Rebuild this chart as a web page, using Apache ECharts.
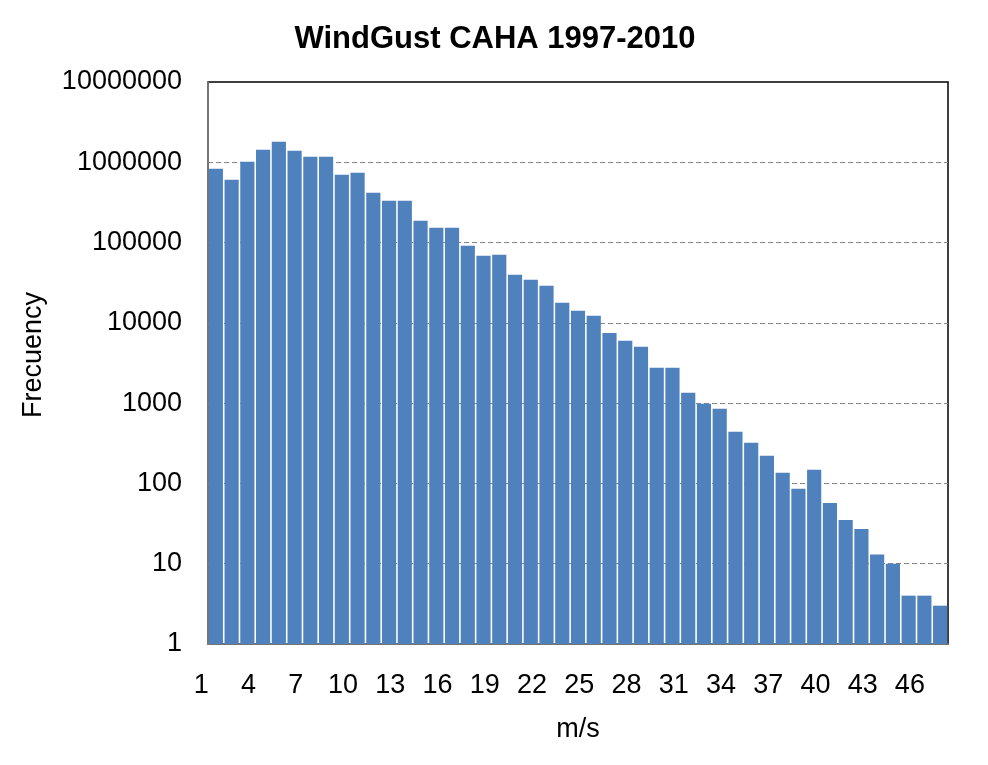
<!DOCTYPE html>
<html>
	<head>
		<meta charset="utf-8">
		<title>WindGust CAHA 1997-2010</title>
		<script src="https://cdn.jsdelivr.net/npm/echarts@6/dist/echarts.min.js"></script>
		<style>
			body{
				margin: 0;
				background: #fff;
			}
			#chart{
				width: 988px;
				height: 765px;
			}
		</style>
	</head>
	<body>
		<div id="chart"></div>
		<script>
			// wind gust speed classes (m/s) and how often each one was seen
			const speeds = ['1', '2', '3', '4', '5', '6', '7', '8', '9', '10',
				'11', '12', '13', '14', '15', '16', '17', '18', '19', '20',
				'21', '22', '23', '24', '25', '26', '27', '28', '29', '30',
				'31', '32', '33', '34', '35', '36', '37', '38', '39', '40',
				'41', '42', '43', '44', '45', '46', '47'];
			const frequency = [830000, 605000, 1015000, 1430000, 1800000, 1390000, 1170000, 1170000, 700000, 740000,
				417000, 332000, 332000, 187000, 153000, 153000, 91000, 68500, 70500, 39700,
				34400, 29000, 17800, 14200, 12300, 7500, 6000, 5040, 2760, 2760,
				1350, 984, 851, 440, 321, 221, 136, 86, 148, 57,
				35, 27, 13, 10, 4, 4, 3];
			const yTicks = [1, 10, 100, 1000, 10000, 100000, 1000000, 10000000];

			// no narrow face installed, so plain sans at a size that keeps the widths
			const font = '"Liberation Sans", Arial, sans-serif';

			const chart = echarts.init(document.getElementById('chart'), null, {renderer: 'canvas'});
			const option = {
				animation: false,
				title: {
					text: 'WindGust CAHA 1997-2010',
					left: 490,
					textAlign: 'center',
					top: 19,
					textStyle: {
						fontFamily: font,
						fontSize: 31,
						fontWeight: 'bold',
						color: '#000'
					}
				},
				grid: {
					left: 208,
					right: 40,
					top: 82,
					bottom: 121,
					outerBoundsMode: 'none',
					show: true,
					borderColor: '#000',
					borderWidth: 1.5
				},
				xAxis: {
					type: 'category',
					data: speeds,
					name: 'm/s',
					nameLocation: 'middle',
					nameGap: 72,
					nameMoveOverlap: false,
					nameTextStyle: {
						fontFamily: font,
						fontSize: 27,
						color: '#000'
					},
					axisLine: {
						lineStyle: {color: '#868686', width: 1.5}
					},
					axisTick: {show: false},
					axisLabel: {
						interval: 2,
						margin: 28,
						padding: [0, 29, 0, 0],
						fontFamily: font,
						fontSize: 27,
						color: '#000'
					},
					splitLine: {show: false}
				},
				yAxis: {
					type: 'log',
					logBase: 10,
					min: yTicks[0],
					max: yTicks[yTicks.length - 1],
					name: 'Frecuency',
					nameLocation: 'middle',
					nameGap: 161,
					nameMoveOverlap: false,
					nameTextStyle: {
						fontFamily: font,
						fontSize: 27,
						color: '#000',
						padding: [0, 0, 0, 16]
					},
					axisLine: {
						show: true,
						lineStyle: {color: '#868686', width: 1.5}
					},
					axisTick: {show: false},
					axisLabel: {
						margin: 26,
						fontFamily: font,
						fontSize: 27,
						color: '#000',
						formatter: function (v) {
							return String(Math.round(v));
						}
					},
					splitLine: {
						show: true,
						showMinLine: false,
						showMaxLine: false,
						lineStyle: {color: '#868686', type: [5, 3], width: 1}
					}
				},
				series: [
					{
						name: 'Frecuency',
						type: 'bar',
						data: frequency,
						barCategoryGap: '10%',
						itemStyle: {color: '#4F81BD'}
					}
				]
			};
			chart.setOption(option);
		</script>
	</body>
</html>
